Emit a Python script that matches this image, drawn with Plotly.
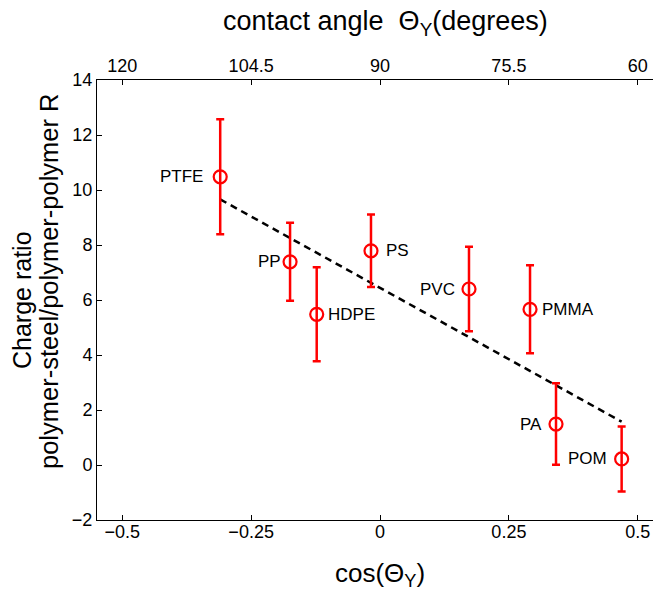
import plotly.graph_objects as go

materials = ["PTFE", "PP", "HDPE", "PS", "PVC", "PMMA", "PA", "POM"]
cos_theta = [-0.310, -0.1745, -0.1228, -0.0175, 0.1726, 0.291, 0.3414, 0.4687]
ratio = [10.48, 7.39, 5.48, 7.79, 6.40, 5.66, 1.49, 0.22]
err = [2.09, 1.42, 1.71, 1.32, 1.54, 1.60, 1.48, 1.18]

fit_x = [-0.310, 0.4687]
fit_y = [9.66, 1.575]

bottom_ticks = [-0.5, -0.25, 0, 0.25, 0.5]
bottom_labels = ["\u22120.5", "\u22120.25", "0", "0.25", "0.5"]
top_labels = ["120", "104.5", "90", "75.5", "60"]
y_ticks = [-2, 0, 2, 4, 6, 8, 10, 12, 14]

# label placement: side and pixel offset
label_side = ["left", "left", "right", "right", "left", "right", "left", "left"]
label_shift = [-15, -7, 9, 13, -12, 10, -12, -13]

FONT = "Liberation Sans, Arial, Helvetica, sans-serif"

fig = go.Figure()

fig.add_trace(go.Scatter(
    x=fit_x, y=fit_y, mode="lines",
    line=dict(color="black", width=2.5, dash="7px,5px"),
    showlegend=False, hoverinfo="skip",
))

fig.add_trace(go.Scatter(
    x=cos_theta, y=ratio, mode="markers",
    marker=dict(symbol="circle-open", size=13, color="red", line=dict(width=2.2, color="red")),
    error_y=dict(type="data", array=err, visible=True, color="red", thickness=2.5, width=4),
    showlegend=False,
))

# invisible trace on top axis
fig.add_trace(go.Scatter(
    x=[cos_theta[0]], y=[ratio[0]], xaxis="x2", mode="markers",
    marker=dict(opacity=0), showlegend=False, hoverinfo="skip",
))

for name, cx, r, side, sh in zip(materials, cos_theta, ratio, label_side, label_shift):
    fig.add_annotation(
        x=cx, y=r, xref="x", yref="y", text=name, showarrow=False,
        xanchor="right" if side == "left" else "left", yanchor="middle",
        xshift=sh, font=dict(family=FONT, size=17, color="black"),
    )

# axis titles
fig.add_annotation(
    x=0.5, y=1, xref="paper", yref="paper", yshift=57, xshift=6,
    text="contact angle  \u0398<sub>Y</sub>(degrees)", showarrow=False,
    xanchor="center", yanchor="middle", font=dict(family=FONT, size=27, color="black"),
)
fig.add_annotation(
    x=0.5, y=0, xref="paper", yref="paper", yshift=-54, xshift=0,
    text="cos(\u0398<sub>Y</sub>)", showarrow=False,
    xanchor="center", yanchor="middle", font=dict(family=FONT, size=26, color="black"),
)
fig.add_annotation(
    x=0, y=0.5, xref="paper", yref="paper", xshift=-75, yshift=0,
    text="Charge ratio", showarrow=False,
    textangle=-90, xanchor="center", yanchor="middle",
    font=dict(family=FONT, size=25, color="black"),
)
fig.add_annotation(
    x=0, y=0.5, xref="paper", yref="paper", xshift=-48, yshift=19,
    text="polymer-steel/polymer-polymer R", showarrow=False,
    textangle=-90, xanchor="center", yanchor="middle",
    font=dict(family=FONT, size=25.5, color="black"),
)

axis_common = dict(
    showgrid=False, zeroline=False, showline=True, linecolor="black", linewidth=1,
    ticks="inside", ticklen=5, tickcolor="black", tickwidth=1,
    tickfont=dict(family=FONT, size=18, color="black"),
)

fig.update_layout(
    width=654, height=585,
    margin=dict(l=89, r=0, t=72, b=73, autoexpand=False),
    paper_bgcolor="white", plot_bgcolor="white",
    xaxis=dict(range=[-0.549, 0.547], tickvals=bottom_ticks, ticktext=bottom_labels,
               ticklabelstandoff=-5, **axis_common),
    xaxis2=dict(overlaying="x", side="top", matches="x", range=[-0.549, 0.547],
                tickvals=bottom_ticks, ticktext=top_labels, **axis_common),
    yaxis=dict(range=[-2, 14], tickvals=y_ticks, mirror="ticks", **axis_common),
)

fig.write_html("out.html")
